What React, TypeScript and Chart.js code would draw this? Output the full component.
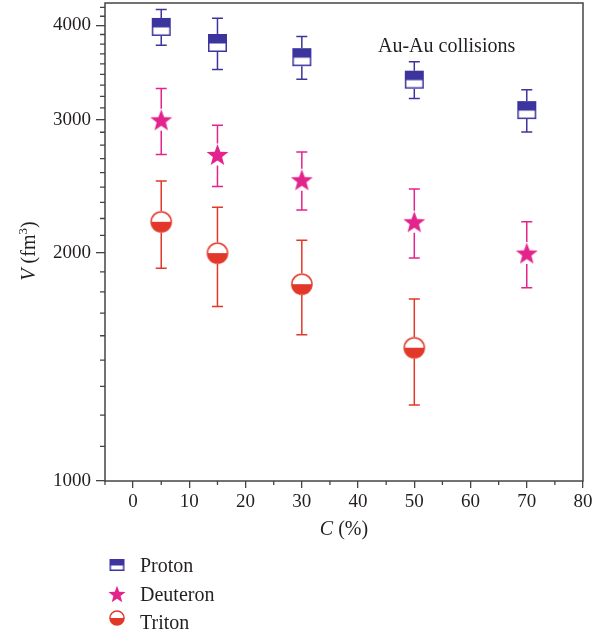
import React, { useEffect, useRef } from 'react';
import { Chart, registerables } from 'chart.js';

Chart.register(...registerables);

// ---------- data ----------
const centrality = [5, 15, 30, 50, 70];
const tritonCentrality = [5, 15, 30, 50];
const protonV = [3980, 3790, 3630, 3390, 3090];
const protonErr = [215, 295, 235, 190, 198];
const deuteronV = [3000, 2700, 2500, 2200, 2000];
const deuteronErr = [300, 250, 220, 230, 200];
const tritonV = [2200, 2000, 1820, 1500];
const tritonErr = [290, 300, 260, 240];
const xTickValues = [0, 10, 20, 30, 40, 50, 60, 70, 80];
const xMinorValues = [-5, 5, 15, 25, 35, 45, 55, 65, 75];
const yTickValues = [1000, 2000, 3000, 4000];
const seriesNames = ['Proton', 'Deuteron', 'Triton'];
const annotationText = 'Au-Au collisions';

const PROTON = '#3d359e';
const DEUTERON = '#e3248c';
const TRITON = '#e2382a';
const AXIS = '#444444';
const TEXT = '#231f20';
const FONT = '"Liberation Serif", "DejaVu Serif", serif';

// ---------- marker images ----------
function makeSquare(w: number, h: number, color: string) {
  const c = document.createElement('canvas');
  c.width = w + 2;
  c.height = h + 2;
  const ctx = c.getContext('2d')!;
  const lw = 1.5;
  const x0 = 1 + lw / 2, y0 = 1 + lw / 2, ww = w - lw, hh = h - lw;
  ctx.fillStyle = '#fff';
  ctx.fillRect(x0, y0, ww, hh);
  ctx.fillStyle = color;
  ctx.fillRect(x0, y0, ww, hh / 2 + 0.5);
  ctx.strokeStyle = color;
  ctx.lineWidth = lw;
  ctx.strokeRect(x0, y0, ww, hh);
  return c;
}

function makeStar(r: number, color: string) {
  const size = Math.ceil(2 * r + 2);
  const c = document.createElement('canvas');
  c.width = size;
  c.height = size;
  const ctx = c.getContext('2d')!;
  const cx = size / 2, cy = size / 2 + 0.095 * r;
  const inner = r * 0.42;
  ctx.beginPath();
  for (let i = 0; i < 10; i++) {
    const rad = i % 2 === 0 ? r : inner;
    const a = -Math.PI / 2 + (i * Math.PI) / 5;
    const px = cx + rad * Math.cos(a), py = cy + rad * Math.sin(a);
    if (i === 0) ctx.moveTo(px, py); else ctx.lineTo(px, py);
  }
  ctx.closePath();
  ctx.fillStyle = color;
  ctx.fill();
  return c;
}

function makeHalfCircle(r: number, color: string) {
  const size = Math.ceil(2 * r + 2);
  const c = document.createElement('canvas');
  c.width = size;
  c.height = size;
  const ctx = c.getContext('2d')!;
  const cx = size / 2, cy = size / 2;
  const lw = 1.5;
  const rr = r - lw / 2;
  ctx.beginPath();
  ctx.arc(cx, cy, rr, 0, Math.PI * 2);
  ctx.fillStyle = '#fff';
  ctx.fill();
  ctx.beginPath();
  ctx.arc(cx, cy, rr, 0, Math.PI);
  ctx.closePath();
  ctx.fillStyle = color;
  ctx.fill();
  ctx.beginPath();
  ctx.arc(cx, cy, rr, 0, Math.PI * 2);
  ctx.strokeStyle = color;
  ctx.lineWidth = lw;
  ctx.stroke();
  return c;
}

export default function App() {
  const ref = useRef<HTMLCanvasElement | null>(null);

  useEffect(() => {
    document.body.style.margin = '0';
    const canvas = ref.current!;

    const sqImg = makeSquare(19, 18, PROTON);
    const starImg = makeStar(11.5, DEUTERON);
    const circImg = makeHalfCircle(10.8, TRITON);
    const legendImgs = [makeSquare(15, 12, PROTON), makeStar(9, DEUTERON), makeHalfCircle(7.8, TRITON)];

    const errors = [protonErr, deuteronErr, tritonErr];
    const gaps = [9, 11, 10.8];

    const errorBarPlugin = {
      id: 'errorBars',
      beforeDatasetsDraw(chart: any) {
        const ctx = chart.ctx;
        const ys = chart.scales.y;
        chart.data.datasets.forEach((ds: any, di: number) => {
          const meta = chart.getDatasetMeta(di);
          ctx.save();
          ctx.strokeStyle = ds.borderColor;
          ctx.lineWidth = 1.5;
          meta.data.forEach((pt: any, i: number) => {
            const v = ds.data[i].y;
            const e = errors[di][i];
            const yt = ys.getPixelForValue(v + e);
            const yb = ys.getPixelForValue(v - e);
            const x = pt.x, y = pt.y, g = gaps[di];
            ctx.beginPath();
            ctx.moveTo(x, yt); ctx.lineTo(x, y - g);
            ctx.moveTo(x, y + g); ctx.lineTo(x, yb);
            ctx.moveTo(x - 5.5, yt); ctx.lineTo(x + 5.5, yt);
            ctx.moveTo(x - 5.5, yb); ctx.lineTo(x + 5.5, yb);
            ctx.stroke();
          });
          ctx.restore();
        });
      },
    };

    const decorPlugin = {
      id: 'decor',
      afterDraw(chart: any) {
        const ctx = chart.ctx;
        const ca = chart.chartArea;
        const xs = chart.scales.x, ys = chart.scales.y;
        ctx.save();
        // frame
        ctx.strokeStyle = AXIS;
        ctx.lineWidth = 1.5;
        ctx.strokeRect(ca.left, ca.top, ca.right - ca.left, ca.bottom - ca.top);
        // minor ticks
        ctx.lineWidth = 1.3;
        ctx.beginPath();
        xMinorValues.forEach((v) => {
          const px = xs.getPixelForValue(v);
          ctx.moveTo(px, ca.bottom); ctx.lineTo(px, ca.bottom + 4);
        });
        for (let k = 1; k <= 4; k++) {
          for (let j = 1; j <= 8; j++) {
            const v = k * 1000 + (j * 1000) / 9;
            if (v > ys.max) continue;
            const py = ys.getPixelForValue(v);
            ctx.moveTo(ca.left, py); ctx.lineTo(ca.left - 5, py);
          }
        }
        ctx.stroke();

        // annotation
        ctx.fillStyle = TEXT;
        ctx.textBaseline = 'alphabetic';
        ctx.textAlign = 'left';
        ctx.font = `20px ${FONT}`;
        ctx.fillText(annotationText, ca.left + 273, ca.top + 49);

        // x title: italic C + " (%)"
        const cx = (ca.left + ca.right) / 2;
        ctx.font = `italic 20px ${FONT}`;
        const wC = ctx.measureText('C').width;
        ctx.font = `20px ${FONT}`;
        const wRest = ctx.measureText(' (%)').width;
        const sx = cx - (wC + wRest) / 2;
        ctx.font = `italic 20px ${FONT}`;
        ctx.fillText('C', sx, ca.bottom + 54);
        ctx.font = `20px ${FONT}`;
        ctx.fillText(' (%)', sx + wC, ca.bottom + 54);

        // y title: italic V + " (fm" + sup 3 + ")"
        ctx.save();
        ctx.translate(35, 251);
        ctx.rotate(-Math.PI / 2);
        ctx.font = `italic 20px ${FONT}`;
        const wV = ctx.measureText('V').width;
        ctx.font = `20px ${FONT}`;
        const wA = ctx.measureText(' (fm').width;
        const wP = ctx.measureText(')').width;
        ctx.font = `13px ${FONT}`;
        const w3 = ctx.measureText('3').width;
        let tx = -(wV + wA + w3 + wP) / 2;
        ctx.font = `italic 20px ${FONT}`;
        ctx.fillText('V', tx, 0); tx += wV;
        ctx.font = `20px ${FONT}`;
        ctx.fillText(' (fm', tx, 0); tx += wA;
        ctx.font = `13px ${FONT}`;
        ctx.fillText('3', tx, -8); tx += w3;
        ctx.font = `20px ${FONT}`;
        ctx.fillText(')', tx, 0);
        ctx.restore();

        // legend
        const markerY = [565, 594, 618];
        const textY = [572, 601, 629];
        ctx.font = `20px ${FONT}`;
        ctx.fillStyle = TEXT;
        seriesNames.forEach((name, i) => {
          const img = legendImgs[i];
          ctx.drawImage(img, 117 - img.width / 2, markerY[i] - img.height / 2);
          ctx.fillText(name, 140, textY[i]);
        });
        ctx.restore();
      },
    };

    const tickFont = { family: FONT, size: 19 };

    const chart = new Chart(canvas, {
      type: 'scatter',
      data: {
        datasets: [
          {
            label: seriesNames[0],
            data: centrality.map((c, i) => ({ x: c, y: protonV[i] })),
            pointStyle: sqImg as any,
            pointRadius: 9,
            borderColor: PROTON,
            backgroundColor: PROTON,
            showLine: false,
          },
          {
            label: seriesNames[1],
            data: centrality.map((c, i) => ({ x: c, y: deuteronV[i] })),
            pointStyle: starImg as any,
            pointRadius: 11,
            borderColor: DEUTERON,
            backgroundColor: DEUTERON,
            showLine: false,
          },
          {
            label: seriesNames[2],
            data: tritonCentrality.map((c, i) => ({ x: c, y: tritonV[i] })),
            pointStyle: circImg as any,
            pointRadius: 11,
            borderColor: TRITON,
            backgroundColor: TRITON,
            showLine: false,
          },
        ],
      },
      options: {
        responsive: false,
        animation: false,
        events: [],
        layout: { autoPadding: false, padding: { left: 0, top: 3, right: 30, bottom: 0 } },
        plugins: { legend: { display: false }, tooltip: { enabled: false } },
        scales: {
          x: {
            type: 'linear',
            min: -5,
            max: 80,
            afterBuildTicks: (s: any) => {
              s.ticks = xTickValues.map((v) => ({ value: v }));
            },
            afterFit: (s: any) => {
              s.height = 156;
              s.paddingLeft = 0;
              s.paddingRight = 0;
            },
            grid: { drawOnChartArea: false, drawTicks: true, tickLength: 7, color: AXIS, lineWidth: 1.3 },
            border: { display: false },
            ticks: {
              font: tickFont,
              color: TEXT,
              padding: 3,
              maxRotation: 0,
              callback: (v: any) => String(v),
            },
          },
          y: {
            type: 'logarithmic',
            min: 1000,
            max: 4280,
            afterBuildTicks: (s: any) => {
              s.ticks = yTickValues.map((v) => ({ value: v }));
            },
            afterFit: (s: any) => {
              s.width = 105;
              s.paddingTop = 0;
              s.paddingBottom = 0;
            },
            grid: { drawOnChartArea: false, drawTicks: true, tickLength: 9, color: AXIS, lineWidth: 1.3 },
            border: { display: false },
            ticks: {
              font: tickFont,
              color: TEXT,
              padding: 5,
              callback: (v: any) => String(v),
            },
          },
        },
      },
      plugins: [errorBarPlugin, decorPlugin],
    });

    return () => {
      chart.destroy();
    };
  }, []);

  return <canvas ref={ref} width={613} height={637} style={{ display: 'block' }} />;
}
